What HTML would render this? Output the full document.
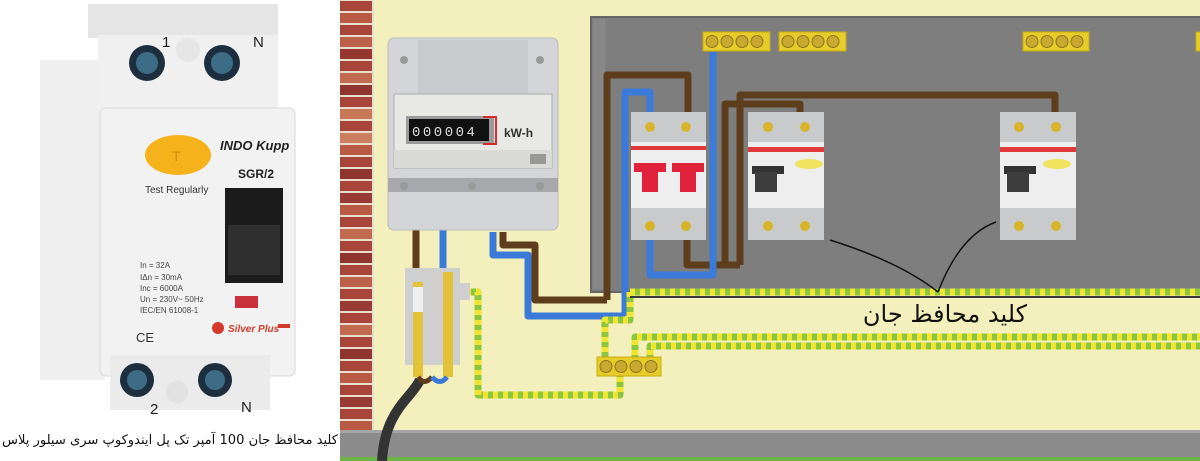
<!DOCTYPE html>
<html><head><meta charset="utf-8"><style>
html,body{margin:0;padding:0;background:#fff;}
svg{display:block;}
</style></head><body>
<svg width="1200" height="461" viewBox="0 0 1200 461" xmlns="http://www.w3.org/2000/svg" font-family="Liberation Sans, sans-serif">
<!-- LEFT RCD -->
<rect x="0" y="0" width="340" height="461" fill="#fff"/>
<rect x="40" y="60" width="65" height="320" fill="#efefef"/>
<rect x="88" y="4" width="190" height="34" fill="#e6e6e6"/>
<rect x="98" y="35" width="180" height="80" fill="#f0f0f0"/>
<circle cx="147" cy="63" r="18" fill="#1d2f3f"/><circle cx="147" cy="63" r="11" fill="#3d6c86"/>
<circle cx="222" cy="63" r="18" fill="#1d2f3f"/><circle cx="222" cy="63" r="11" fill="#3d6c86"/>
<circle cx="188" cy="50" r="12" fill="#e6e6e6"/>
<text x="162" y="47" font-size="15" fill="#222">1</text>
<text x="253" y="47" font-size="15" fill="#222">N</text>
<rect x="100" y="108" width="195" height="268" rx="6" fill="#f2f2f2" stroke="#d8d8d8"/>
<ellipse cx="178" cy="155" rx="33" ry="20" fill="#f5b21b"/>
<text x="172" y="161" font-size="14" fill="#d58a10">T</text>
<text x="220" y="150" font-size="13" font-weight="bold" font-style="italic" fill="#222">INDO Kupp</text>
<text x="238" y="178" font-size="12" font-weight="bold" fill="#222">SGR/2</text>
<text x="145" y="193" font-size="10" fill="#333">Test Regularly</text>
<rect x="225" y="188" width="58" height="95" fill="#1c1c1c"/>
<rect x="228" y="225" width="52" height="50" fill="#2f2f2f"/>
<rect x="235" y="296" width="23" height="12" fill="#c9303a"/>
<g fill="#444" font-size="8">
<text x="140" y="268">In = 32A</text><text x="140" y="280">IΔn = 30mA</text><text x="140" y="291">Inc = 6000A</text><text x="140" y="302">Un = 230V~ 50Hz</text><text x="140" y="313">IEC/EN 61008-1</text>
</g>
<text x="136" y="342" font-size="13" fill="#333">CE</text>
<circle cx="218" cy="328" r="6" fill="#d23a2a"/>
<text x="228" y="332" font-size="10" font-weight="bold" font-style="italic" fill="#d23a2a">Silver Plus</text>
<rect x="278" y="324" width="12" height="4" fill="#d23a2a"/>
<rect x="110" y="355" width="160" height="55" fill="#ebebeb"/>
<circle cx="137" cy="380" r="17" fill="#1d2f3f"/><circle cx="137" cy="380" r="10" fill="#3d6c86"/>
<circle cx="215" cy="380" r="17" fill="#1d2f3f"/><circle cx="215" cy="380" r="10" fill="#3d6c86"/>
<circle cx="177" cy="392" r="11" fill="#e2e2e2"/>
<text x="150" y="414" font-size="15" fill="#222">2</text>
<text x="241" y="412" font-size="15" fill="#222">N</text>
<text x="338" y="444" font-size="13" text-anchor="start" direction="rtl" textLength="336" lengthAdjust="spacingAndGlyphs" font-family="DejaVu Sans, sans-serif" fill="#111">کلید محافظ جان 100 آمپر تک پل ایندوکوپ سری سیلور پلاس</text>

<!-- RIGHT WALL -->
<rect x="340" y="0" width="860" height="461" fill="#f4f0bd"/>
<g>
<rect x="340" y="0" width="34" height="430" fill="#eadfcc"/>
<g fill="#a8453a">
<rect x="340" y="1" width="32" height="10"/><rect x="340" y="13" width="32" height="10" fill="#b95a45"/><rect x="340" y="25" width="32" height="10"/><rect x="340" y="37" width="32" height="10" fill="#bc6049"/><rect x="340" y="49" width="32" height="10" fill="#96372f"/><rect x="340" y="61" width="32" height="10"/><rect x="340" y="73" width="32" height="10" fill="#c06b50"/><rect x="340" y="85" width="32" height="10" fill="#8e3530"/><rect x="340" y="97" width="32" height="10"/><rect x="340" y="109" width="32" height="10" fill="#c77757"/><rect x="340" y="121" width="32" height="10"/><rect x="340" y="133" width="32" height="10" fill="#cc7e60"/><rect x="340" y="145" width="32" height="10" fill="#b95a45"/><rect x="340" y="157" width="32" height="10"/><rect x="340" y="169" width="32" height="10" fill="#8e3530"/><rect x="340" y="181" width="32" height="10"/><rect x="340" y="193" width="32" height="10" fill="#963a33"/><rect x="340" y="205" width="32" height="10" fill="#b95a45"/><rect x="340" y="217" width="32" height="10"/><rect x="340" y="229" width="32" height="10" fill="#c06b50"/><rect x="340" y="241" width="32" height="10"/><rect x="340" y="253" width="32" height="10" fill="#8e3530"/><rect x="340" y="265" width="32" height="10"/><rect x="340" y="277" width="32" height="10" fill="#bc6049"/><rect x="340" y="289" width="32" height="10"/><rect x="340" y="301" width="32" height="10" fill="#963a33"/><rect x="340" y="313" width="32" height="10"/><rect x="340" y="325" width="32" height="10" fill="#c06b50"/><rect x="340" y="337" width="32" height="10"/><rect x="340" y="349" width="32" height="10" fill="#8e3530"/><rect x="340" y="361" width="32" height="10"/><rect x="340" y="373" width="32" height="10" fill="#b95a45"/><rect x="340" y="385" width="32" height="10"/><rect x="340" y="397" width="32" height="10" fill="#963a33"/><rect x="340" y="409" width="32" height="10"/><rect x="340" y="421" width="32" height="9" fill="#b95a45"/>
</g>
</g>
<rect x="340" y="430" width="860" height="28" fill="#8c8c8c"/>
<rect x="340" y="430" width="860" height="3" fill="#a5a5a5"/>
<rect x="340" y="457" width="860" height="4" fill="#6cb544"/>

<!-- Panel -->
<rect x="591" y="17" width="612" height="275" fill="#7e7e7e" stroke="#666" stroke-width="2"/>
<rect x="593" y="19" width="12" height="270" fill="#888"/>
<g fill="#e6cd2a" stroke="#c5ab15">
<rect x="703" y="32" width="67" height="19"/><rect x="779" y="32" width="67" height="19"/><rect x="1023" y="32" width="66" height="19"/><rect x="1196" y="32" width="10" height="19"/>
</g>
<g fill="#c9a930" stroke="#8d7520" stroke-width="1">
<circle cx="712" cy="41.5" r="6"/><circle cx="727" cy="41.5" r="6"/><circle cx="742" cy="41.5" r="6"/><circle cx="757" cy="41.5" r="6"/>
<circle cx="788" cy="41.5" r="6"/><circle cx="803" cy="41.5" r="6"/><circle cx="818" cy="41.5" r="6"/><circle cx="833" cy="41.5" r="6"/>
<circle cx="1032" cy="41.5" r="6"/><circle cx="1047" cy="41.5" r="6"/><circle cx="1062" cy="41.5" r="6"/><circle cx="1077" cy="41.5" r="6"/>
</g>

<!-- wires in panel -->
<g fill="none" stroke-width="7" stroke-linejoin="round">
<path d="M740 265 V95 H1055 V112" stroke="#5e3d1c"/>
<path d="M725 265 V104 H800 V112" stroke="#5e3d1c"/>
<path d="M687 240 V265 H740" stroke="#5e3d1c"/>
<path d="M607 300 V75 H688 V112" stroke="#5e3d1c"/>
<path d="M625 316 V92 H650 V112" stroke="#3b7ad8"/>
<path d="M650 240 V275 H713 V52" stroke="#3b7ad8"/>
<path d="M503 232 V245 H535 V300 H607" stroke="#5e3d1c"/>
<path d="M493 232 V255 H528 V316 H625" stroke="#3b7ad8"/>
<path d="M416 230 V270" stroke="#5e3d1c"/>
<path d="M443 230 V270" stroke="#3b7ad8"/>
</g>

<!-- breakers -->
<g>
<rect x="631" y="112" width="75" height="128" fill="#c9cacc"/>
<rect x="631" y="142" width="75" height="66" fill="#eeeeef"/>
<rect x="631" y="146" width="75" height="4" fill="#e03a3a"/>
<rect x="634" y="163" width="32" height="9" fill="#e0233a"/><rect x="642" y="170" width="16" height="22" fill="#e0233a"/>
<rect x="672" y="163" width="32" height="9" fill="#e0233a"/><rect x="680" y="170" width="16" height="22" fill="#e0233a"/>
<g fill="#d8b42a"><circle cx="650" cy="127" r="5"/><circle cx="686" cy="127" r="5"/><circle cx="650" cy="226" r="5"/><circle cx="686" cy="226" r="5"/></g>
</g>
<g>
<rect x="748" y="112" width="76" height="128" fill="#c9cacc"/>
<rect x="748" y="142" width="76" height="66" fill="#eeeeef"/>
<rect x="748" y="147" width="76" height="5" fill="#e03a3a"/>
<ellipse cx="809" cy="164" rx="14" ry="5" fill="#f1e35e"/>
<rect x="752" y="166" width="32" height="8" fill="#333"/><rect x="755" y="172" width="22" height="20" fill="#3d3d3d"/>
<g fill="#d8b42a"><circle cx="768" cy="127" r="5"/><circle cx="805" cy="127" r="5"/><circle cx="768" cy="226" r="5"/><circle cx="805" cy="226" r="5"/></g>
</g>
<g>
<rect x="1000" y="112" width="76" height="128" fill="#c9cacc"/>
<rect x="1000" y="142" width="76" height="66" fill="#eeeeef"/>
<rect x="1000" y="147" width="76" height="5" fill="#e03a3a"/>
<ellipse cx="1057" cy="164" rx="14" ry="5" fill="#f1e35e"/>
<rect x="1004" y="166" width="32" height="8" fill="#333"/><rect x="1007" y="172" width="22" height="20" fill="#3d3d3d"/>
<g fill="#d8b42a"><circle cx="1019" cy="127" r="5"/><circle cx="1056" cy="127" r="5"/><circle cx="1019" cy="226" r="5"/><circle cx="1056" cy="226" r="5"/></g>
</g>

<!-- meter -->
<rect x="388" y="38" width="170" height="192" rx="6" fill="#d3d5d8" stroke="#b9bbbe"/>
<rect x="418" y="40" width="110" height="55" fill="#c9cbce"/>
<rect x="394" y="94" width="158" height="74" fill="#e8e8e4" stroke="#a9abae"/>
<rect x="406" y="116" width="88" height="28" fill="#9a9a9a"/>
<rect x="409" y="119" width="80" height="22" fill="#111"/>
<text x="412" y="136" font-size="14" fill="#ddd" letter-spacing="2.5" font-family="Liberation Mono, monospace">000004</text>
<path d="M483 117 H496 V144 H483" fill="none" stroke="#d82b2b" stroke-width="2"/>
<text x="504" y="137" font-size="12" font-weight="bold" fill="#333">kW-h</text>
<rect x="394" y="150" width="158" height="18" fill="#dadad6"/>
<rect x="530" y="154" width="16" height="10" fill="#555" opacity=".5"/>
<rect x="388" y="178" width="170" height="14" fill="#a7a9ac"/>
<g fill="#999"><circle cx="404" cy="60" r="4"/><circle cx="540" cy="60" r="4"/><circle cx="404" cy="186" r="4"/><circle cx="472" cy="186" r="4"/><circle cx="540" cy="186" r="4"/></g>

<!-- green-yellow earth wires -->
<g fill="none" stroke-width="7" stroke-linejoin="round" stroke="#8cc63f">
<path d="M630 292 H1200"/><path d="M630 292 V320 H605 V360"/><path d="M635 365 V337 H1200"/><path d="M650 365 V346 H1200"/><path d="M466 292 H478 V395 H620 V375"/>
</g>
<g fill="none" stroke-width="7" stroke-linejoin="round" stroke="#f1e533" stroke-dasharray="5 5">
<path d="M630 292 H1200"/><path d="M630 292 V320 H605 V360"/><path d="M635 365 V337 H1200"/><path d="M650 365 V346 H1200"/><path d="M466 292 H478 V395 H620 V375"/>
</g>
<line x1="630" y1="297" x2="1200" y2="297" stroke="#3a3a3a" stroke-width="2"/>
<rect x="597" y="357" width="64" height="19" fill="#e6cd2a" stroke="#c5ab15"/>
<g fill="#c9a930" stroke="#8d7520"><circle cx="606" cy="366.5" r="6"/><circle cx="621" cy="366.5" r="6"/><circle cx="636" cy="366.5" r="6"/><circle cx="651" cy="366.5" r="6"/></g>

<!-- fuse/cutout block -->
<path d="M405 268 H460 V283 H470 V300 H460 V365 H405 Z" fill="#cfcfcf"/>
<rect x="413" y="282" width="10" height="95" fill="#e2c33a"/>
<rect x="413" y="287" width="10" height="25" fill="#eee"/>
<rect x="443" y="272" width="10" height="105" fill="#e2c33a"/>
<path d="M420 380 C410 400 385 410 382 461" stroke="#333" stroke-width="10" fill="none"/>
<path d="M418 377 Q424 386 432 377" stroke="#5e3d1c" stroke-width="5" fill="none"/>
<path d="M432 377 Q440 386 447 377" stroke="#3b7ad8" stroke-width="5" fill="none"/>

<!-- callout -->
<path d="M830 240 Q900 262 938 292" stroke="#111" stroke-width="1.5" fill="none"/>
<path d="M996 222 Q960 235 938 292" stroke="#111" stroke-width="1.5" fill="none"/>
<text x="945" y="322" font-size="24" text-anchor="middle" direction="rtl" font-family="DejaVu Sans, sans-serif" fill="#111">کلید محافظ جان</text>
</svg>
</body></html>
